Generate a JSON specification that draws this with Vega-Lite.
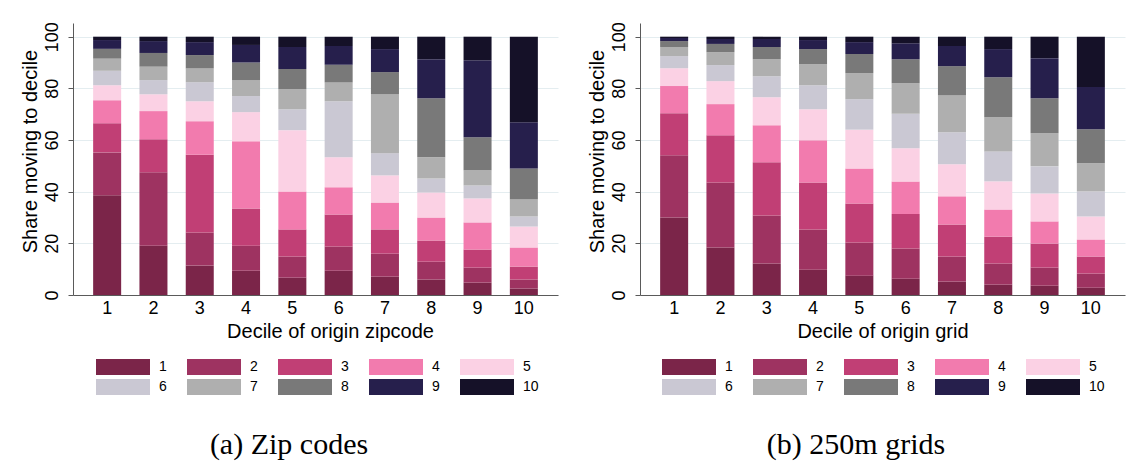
{
  "$schema": "https://vega.github.io/schema/vega-lite/v6.json",
  "padding": {"left": 20, "top": 21, "right": 5, "bottom": 5},
  "background": "white",
  "datasets": {
    "zip": [
      {"origin":1,"dest":1,"share":38.6},{"origin":1,"dest":2,"share":16.6},{"origin":1,"dest":3,"share":11.3},{"origin":1,"dest":4,"share":8.9},{"origin":1,"dest":5,"share":5.8},{"origin":1,"dest":6,"share":5.6},{"origin":1,"dest":7,"share":4.7},{"origin":1,"dest":8,"share":3.8},{"origin":1,"dest":9,"share":3.4},{"origin":1,"dest":10,"share":1.3},
      {"origin":2,"dest":1,"share":19.1},{"origin":2,"dest":2,"share":28.4},{"origin":2,"dest":3,"share":12.8},{"origin":2,"dest":4,"share":10.9},{"origin":2,"dest":5,"share":6.5},{"origin":2,"dest":6,"share":5.5},{"origin":2,"dest":7,"share":5.2},{"origin":2,"dest":8,"share":5.3},{"origin":2,"dest":9,"share":4.6},{"origin":2,"dest":10,"share":1.7},
      {"origin":3,"dest":1,"share":11.4},{"origin":3,"dest":2,"share":12.8},{"origin":3,"dest":3,"share":30.1},{"origin":3,"dest":4,"share":13.0},{"origin":3,"dest":5,"share":7.7},{"origin":3,"dest":6,"share":7.4},{"origin":3,"dest":7,"share":5.3},{"origin":3,"dest":8,"share":5.2},{"origin":3,"dest":9,"share":5.0},{"origin":3,"dest":10,"share":2.1},
      {"origin":4,"dest":1,"share":9.4},{"origin":4,"dest":2,"share":9.7},{"origin":4,"dest":3,"share":14.4},{"origin":4,"dest":4,"share":26.0},{"origin":4,"dest":5,"share":11.3},{"origin":4,"dest":6,"share":6.2},{"origin":4,"dest":7,"share":6.1},{"origin":4,"dest":8,"share":6.9},{"origin":4,"dest":9,"share":6.8},{"origin":4,"dest":10,"share":3.2},
      {"origin":5,"dest":1,"share":6.7},{"origin":5,"dest":2,"share":8.2},{"origin":5,"dest":3,"share":10.5},{"origin":5,"dest":4,"share":14.7},{"origin":5,"dest":5,"share":23.7},{"origin":5,"dest":6,"share":8.1},{"origin":5,"dest":7,"share":7.8},{"origin":5,"dest":8,"share":7.8},{"origin":5,"dest":9,"share":8.5},{"origin":5,"dest":10,"share":4.0},
      {"origin":6,"dest":1,"share":9.4},{"origin":6,"dest":2,"share":9.4},{"origin":6,"dest":3,"share":12.4},{"origin":6,"dest":4,"share":10.5},{"origin":6,"dest":5,"share":11.6},{"origin":6,"dest":6,"share":21.7},{"origin":6,"dest":7,"share":7.3},{"origin":6,"dest":8,"share":6.8},{"origin":6,"dest":9,"share":7.3},{"origin":6,"dest":10,"share":3.6},
      {"origin":7,"dest":1,"share":7.1},{"origin":7,"dest":2,"share":8.9},{"origin":7,"dest":3,"share":9.4},{"origin":7,"dest":4,"share":10.4},{"origin":7,"dest":5,"share":10.5},{"origin":7,"dest":6,"share":8.6},{"origin":7,"dest":7,"share":22.8},{"origin":7,"dest":8,"share":8.6},{"origin":7,"dest":9,"share":8.9},{"origin":7,"dest":10,"share":4.8},
      {"origin":8,"dest":1,"share":6.0},{"origin":8,"dest":2,"share":6.9},{"origin":8,"dest":3,"share":8.2},{"origin":8,"dest":4,"share":8.9},{"origin":8,"dest":5,"share":9.7},{"origin":8,"dest":6,"share":5.4},{"origin":8,"dest":7,"share":8.2},{"origin":8,"dest":8,"share":22.9},{"origin":8,"dest":9,"share":15.1},{"origin":8,"dest":10,"share":8.7},
      {"origin":9,"dest":1,"share":4.8},{"origin":9,"dest":2,"share":5.8},{"origin":9,"dest":3,"share":7.0},{"origin":9,"dest":4,"share":10.5},{"origin":9,"dest":5,"share":9.3},{"origin":9,"dest":6,"share":5.0},{"origin":9,"dest":7,"share":5.9},{"origin":9,"dest":8,"share":12.8},{"origin":9,"dest":9,"share":29.8},{"origin":9,"dest":10,"share":9.1},
      {"origin":10,"dest":1,"share":2.5},{"origin":10,"dest":2,"share":3.5},{"origin":10,"dest":3,"share":5.0},{"origin":10,"dest":4,"share":7.4},{"origin":10,"dest":5,"share":8.1},{"origin":10,"dest":6,"share":3.9},{"origin":10,"dest":7,"share":6.6},{"origin":10,"dest":8,"share":12.0},{"origin":10,"dest":9,"share":17.9},{"origin":10,"dest":10,"share":33.1}
    ],
    "grid": [
      {"origin":1,"dest":1,"share":30.0},{"origin":1,"dest":2,"share":24.1},{"origin":1,"dest":3,"share":16.3},{"origin":1,"dest":4,"share":10.5},{"origin":1,"dest":5,"share":6.9},{"origin":1,"dest":6,"share":4.7},{"origin":1,"dest":7,"share":3.5},{"origin":1,"dest":8,"share":2.3},{"origin":1,"dest":9,"share":1.2},{"origin":1,"dest":10,"share":0.5},
      {"origin":2,"dest":1,"share":18.4},{"origin":2,"dest":2,"share":25.2},{"origin":2,"dest":3,"share":18.2},{"origin":2,"dest":4,"share":12.1},{"origin":2,"dest":5,"share":8.9},{"origin":2,"dest":6,"share":6.2},{"origin":2,"dest":7,"share":5.0},{"origin":2,"dest":8,"share":3.2},{"origin":2,"dest":9,"share":1.9},{"origin":2,"dest":10,"share":0.9},
      {"origin":3,"dest":1,"share":12.2},{"origin":3,"dest":2,"share":18.6},{"origin":3,"dest":3,"share":20.6},{"origin":3,"dest":4,"share":14.3},{"origin":3,"dest":5,"share":10.9},{"origin":3,"dest":6,"share":8.1},{"origin":3,"dest":7,"share":6.6},{"origin":3,"dest":8,"share":4.7},{"origin":3,"dest":9,"share":3.1},{"origin":3,"dest":10,"share":0.9},
      {"origin":4,"dest":1,"share":9.8},{"origin":4,"dest":2,"share":15.6},{"origin":4,"dest":3,"share":18.2},{"origin":4,"dest":4,"share":16.3},{"origin":4,"dest":5,"share":12.0},{"origin":4,"dest":6,"share":9.3},{"origin":4,"dest":7,"share":8.2},{"origin":4,"dest":8,"share":5.8},{"origin":4,"dest":9,"share":3.5},{"origin":4,"dest":10,"share":1.3},
      {"origin":5,"dest":1,"share":7.5},{"origin":5,"dest":2,"share":12.8},{"origin":5,"dest":3,"share":15.1},{"origin":5,"dest":4,"share":13.6},{"origin":5,"dest":5,"share":15.0},{"origin":5,"dest":6,"share":11.8},{"origin":5,"dest":7,"share":10.1},{"origin":5,"dest":8,"share":7.4},{"origin":5,"dest":9,"share":4.6},{"origin":5,"dest":10,"share":2.1},
      {"origin":6,"dest":1,"share":6.3},{"origin":6,"dest":2,"share":11.7},{"origin":6,"dest":3,"share":13.4},{"origin":6,"dest":4,"share":12.5},{"origin":6,"dest":5,"share":12.9},{"origin":6,"dest":6,"share":13.4},{"origin":6,"dest":7,"share":11.8},{"origin":6,"dest":8,"share":9.3},{"origin":6,"dest":9,"share":6.2},{"origin":6,"dest":10,"share":2.5},
      {"origin":7,"dest":1,"share":5.2},{"origin":7,"dest":2,"share":9.7},{"origin":7,"dest":3,"share":12.4},{"origin":7,"dest":4,"share":10.9},{"origin":7,"dest":5,"share":12.4},{"origin":7,"dest":6,"share":12.4},{"origin":7,"dest":7,"share":14.4},{"origin":7,"dest":8,"share":11.2},{"origin":7,"dest":9,"share":7.8},{"origin":7,"dest":10,"share":3.6},
      {"origin":8,"dest":1,"share":4.0},{"origin":8,"dest":2,"share":8.2},{"origin":8,"dest":3,"share":10.4},{"origin":8,"dest":4,"share":10.5},{"origin":8,"dest":5,"share":10.9},{"origin":8,"dest":6,"share":11.6},{"origin":8,"dest":7,"share":13.2},{"origin":8,"dest":8,"share":15.5},{"origin":8,"dest":9,"share":10.9},{"origin":8,"dest":10,"share":4.8},
      {"origin":9,"dest":1,"share":3.6},{"origin":9,"dest":2,"share":7.0},{"origin":9,"dest":3,"share":9.3},{"origin":9,"dest":4,"share":8.6},{"origin":9,"dest":5,"share":10.8},{"origin":9,"dest":6,"share":10.5},{"origin":9,"dest":7,"share":12.8},{"origin":9,"dest":8,"share":13.6},{"origin":9,"dest":9,"share":15.5},{"origin":9,"dest":10,"share":8.3},
      {"origin":10,"dest":1,"share":2.8},{"origin":10,"dest":2,"share":5.5},{"origin":10,"dest":3,"share":6.6},{"origin":10,"dest":4,"share":6.6},{"origin":10,"dest":5,"share":8.9},{"origin":10,"dest":6,"share":9.7},{"origin":10,"dest":7,"share":10.9},{"origin":10,"dest":8,"share":13.2},{"origin":10,"dest":9,"share":16.3},{"origin":10,"dest":10,"share":19.5}
    ]
  },
  "spacing": 29,
  "hconcat": [
    {
      "data": {"name": "zip"},
      "width": 485,
      "height": 272,
      "title": {"text": "(a) Zip codes", "orient": "bottom", "anchor": "middle", "frame": "bounds", "font": "Liberation Serif", "fontSize": 30, "fontWeight": "normal", "color": "#000000", "offset": 35},
      "mark": {"type": "bar"},
      "encoding": {
        "x": {"field": "origin", "type": "ordinal", "scale": {"paddingInner": 0.395, "paddingOuter": 0.435}, "axis": {"title": "Decile of origin zipcode", "titleX": 257}},
        "y": {"field": "share", "type": "quantitative", "stack": "zero", "scale": {"domain": [0, 105.3], "nice": false, "zero": true}, "axis": {"title": "Share moving to decile", "values": [0, 20, 40, 60, 80, 100]}},
        "color": {"field": "dest", "type": "ordinal", "scale": {"domain": [1,2,3,4,5,6,7,8,9,10], "range": ["#7b2549","#9e3361","#c13f75","#f27bae","#fbd1e4","#cac8d3","#afafaf","#797979","#261f4c","#151128"]}, "legend": {"legendX": 23, "legendY": 336}},
        "order": {"field": "dest", "type": "quantitative"}
      }
    },
    {
      "data": {"name": "grid"},
      "width": 485,
      "height": 272,
      "title": {"text": "(b) 250m grids", "orient": "bottom", "anchor": "middle", "frame": "bounds", "font": "Liberation Serif", "fontSize": 30, "fontWeight": "normal", "color": "#000000", "offset": 35},
      "mark": {"type": "bar"},
      "encoding": {
        "x": {"field": "origin", "type": "ordinal", "scale": {"paddingInner": 0.395, "paddingOuter": 0.435}, "axis": {"title": "Decile of origin grid"}},
        "y": {"field": "share", "type": "quantitative", "stack": "zero", "scale": {"domain": [0, 105.3], "nice": false, "zero": true}, "axis": {"title": "Share moving to decile", "values": [0, 20, 40, 60, 80, 100]}},
        "color": {"field": "dest", "type": "ordinal", "scale": {"domain": [1,2,3,4,5,6,7,8,9,10], "range": ["#7b2549","#9e3361","#c13f75","#f27bae","#fbd1e4","#cac8d3","#afafaf","#797979","#261f4c","#151128"]}, "legend": {"legendX": 22, "legendY": 336}},
        "order": {"field": "dest", "type": "quantitative"}
      }
    }
  ],
  "resolve": {"scale": {"color": "shared", "x": "independent", "y": "independent"}, "legend": {"color": "independent"}},
  "config": {
    "font": "Liberation Sans",
    "view": {"stroke": null},
    "axis": {
      "domainColor": "#5a5a5a",
      "tickColor": "#5a5a5a",
      "labelColor": "#000000",
      "titleColor": "#000000",
      "labelFont": "Liberation Sans",
      "titleFont": "Liberation Sans",
      "labelFontSize": 18,
      "titleFontSize": 20,
      "titleFontWeight": "normal",
      "labelOverlap": false,
      "labelFlush": false
    },
    "axisX": {
      "labelAngle": 0,
      "ticks": false,
      "tickSize": 0,
      "grid": false,
      "labelPadding": 4,
      "titlePadding": 4
    },
    "axisY": {
      "grid": true,
      "gridColor": "#e4edf0",
      "gridWidth": 1,
      "tickSize": 5,
      "labelAngle": -90,
      "labelAlign": "center",
      "labelBaseline": "bottom",
      "labelPadding": 7,
      "minExtent": 30,
      "maxExtent": 30,
      "titlePadding": 3,
      "titleY": 128
    },
    "legend": {
      "orient": "none",
      "direction": "horizontal",
      "columns": 5,
      "title": null,
      "padding": 0,
      "symbolType": "M-1,-0.3H1V0.3H-1Z",
      "symbolSize": 2916,
      "symbolStrokeWidth": 0,
      "symbolOpacity": 1,
      "clipHeight": 16,
      "labelFont": "Liberation Sans",
      "labelFontSize": 14,
      "labelColor": "#000000",
      "labelOffset": 9,
      "columnPadding": 20,
      "rowPadding": 4
    }
  }
}
